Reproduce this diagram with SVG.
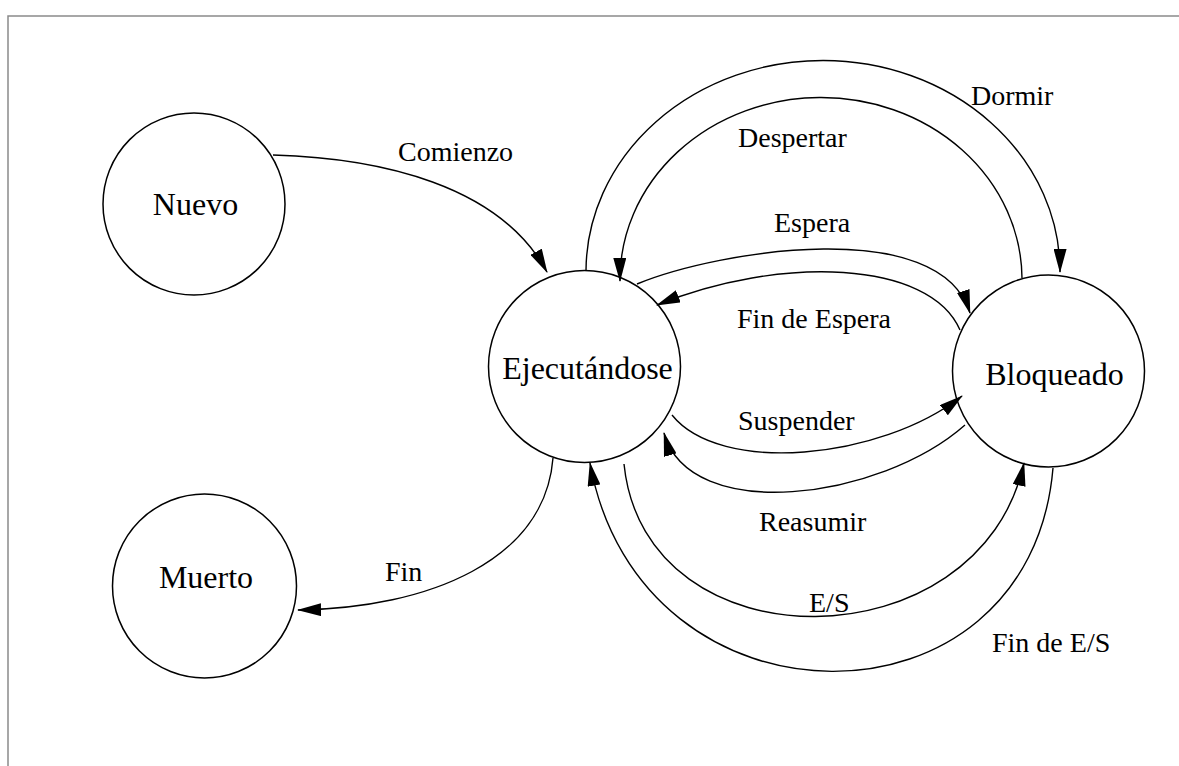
<svg xmlns="http://www.w3.org/2000/svg" width="1179" height="766" viewBox="0 0 1179 766">
<style>
.node{fill:#fff;stroke:#000;stroke-width:1.5}
.nt{font-family:"Liberation Serif","Times New Roman",serif;font-size:32px;fill:#000;text-anchor:middle}
.lbl{font-family:"Liberation Serif","Times New Roman",serif;font-size:28px;fill:#000}
.edge{fill:none;stroke:#000;stroke-width:1.4;marker-end:url(#arr)}
.frame{stroke:#8a8a8a;stroke-width:1.5;fill:none}
</style>
<defs>
<marker id="arr" viewBox="0 0 24 13" refX="23" refY="6.5" markerWidth="24" markerHeight="13" orient="auto" markerUnits="userSpaceOnUse">
<path d="M0,0 L24,6.5 L0,13 z" fill="#000"/>
</marker>
</defs>
<rect width="1179" height="766" fill="#fff"/>
<path class="frame" d="M8,766 L8,16 L1179,16"/>
<g id="nuevo"><circle class="node" cx="194" cy="204" r="91"/><text class="nt" x="195.5" y="215">Nuevo</text></g>
<g id="muerto"><circle class="node" cx="204.5" cy="586" r="92"/><text class="nt" x="206" y="588">Muerto</text></g>
<g id="ejecutandose"><circle class="node" cx="584.5" cy="366.5" r="96"/><text class="nt" x="587.5" y="379">Ejecutándose</text></g>
<g id="bloqueado"><circle class="node" cx="1048.5" cy="371" r="96"/><text class="nt" x="1054.5" y="385">Bloqueado</text></g>
<g id="connectors">
<path class="edge" d="M273,155 C380,158 500,185 547,272"/>
<path class="edge" d="M553,458 C545,560 430,608 298,610"/>
<path class="edge" d="M586,271 A237,211 0 0 1 1060,272"/>
<path class="edge" d="M1022,278 A201,182 0 0 0 620,281"/>
<path class="edge" d="M637,284 C720,250 940,215 970,313"/>
<path class="edge" d="M960,330 C930,260 780,255 657,305"/>
<path class="edge" d="M672,415 C720,475 880,460 962,396"/>
<path class="edge" d="M965,425 C880,500 690,525 664,433"/>
<path class="edge" d="M624,464 C645,670 980,665 1024,463"/>
<path class="edge" d="M1053,468 C1030,740 640,740 590,463"/>
</g>
<g id="labels">
<text class="lbl" x="398" y="161">Comienzo</text>
<text class="lbl" x="385" y="581">Fin</text>
<text class="lbl" x="971" y="105">Dormir</text>
<text class="lbl" x="738" y="147">Despertar</text>
<text class="lbl" x="774" y="232">Espera</text>
<text class="lbl" x="737" y="328">Fin de Espera</text>
<text class="lbl" x="738" y="430">Suspender</text>
<text class="lbl" x="759" y="531">Reasumir</text>
<text class="lbl" x="809" y="612">E/S</text>
<text class="lbl" x="992" y="652">Fin de E/S</text>
</g>
</svg>
